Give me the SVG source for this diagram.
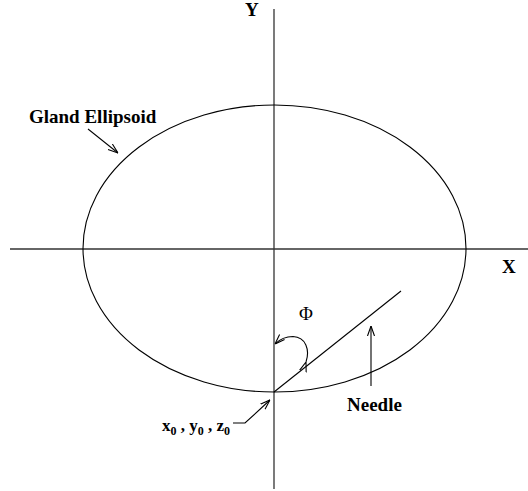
<svg xmlns="http://www.w3.org/2000/svg" width="528" height="491" viewBox="0 0 528 491">
<style>
.ln{fill:none;stroke:#000;stroke-width:1.1}
.ax{fill:none;stroke:#333;stroke-width:1.3}
.lb{font-family:"Liberation Serif","Times New Roman",serif;font-weight:bold;font-size:19px;fill:#000}
.sm{font-size:17px}
</style>
<defs>
<marker id="ah" viewBox="0 0 10 10" refX="10" refY="5" markerWidth="10" markerHeight="10" markerUnits="userSpaceOnUse" orient="auto">
<path d="M0,1.5 L10,5 L0,8.5" fill="none" stroke="#000" stroke-width="1.1"/>
</marker>
</defs>
<g id="axes">
<line class="ax" x1="10" y1="249" x2="528" y2="249"/>
<line class="ax" x1="274" y1="9" x2="274" y2="489"/>
<text class="lb" x="245" y="16">Y</text>
<text class="lb" x="502" y="273">X</text>
</g>
<g id="ellipsoid">
<ellipse class="ln" cx="274.5" cy="248.5" rx="191.5" ry="143.5"/>
<text class="lb" x="29" y="123">Gland Ellipsoid</text>
</g>
<g id="needle">
<line class="ln" x1="274" y1="392" x2="401" y2="291"/>
<text class="lb" x="347" y="411">Needle</text>
</g>
<g id="phi">
<text class="lb" x="299" y="320" style="font-weight:normal">Φ</text>
</g>
<g id="origin">
<text class="lb sm" x="162" y="431">x<tspan font-size="12" dy="4">0</tspan><tspan dy="-4"> , y</tspan><tspan font-size="12" dy="4">0</tspan><tspan dy="-4"> , z</tspan><tspan font-size="12" dy="4">0</tspan></text>
</g>
<g id="connectors">
<line class="ln" x1="88" y1="129" x2="118" y2="153" marker-end="url(#ah)"/>
<line class="ln" x1="371" y1="386" x2="371" y2="326" marker-end="url(#ah)"/>
<polyline class="ln" points="233,423 245,423 270,400" marker-end="url(#ah)"/>
<path class="ln" d="M306,362 C310,350 306,337 293,336.5 C285,336.5 279,340 275,344" marker-start="url(#ah)" marker-end="url(#ah)"/>
</g>
</svg>
